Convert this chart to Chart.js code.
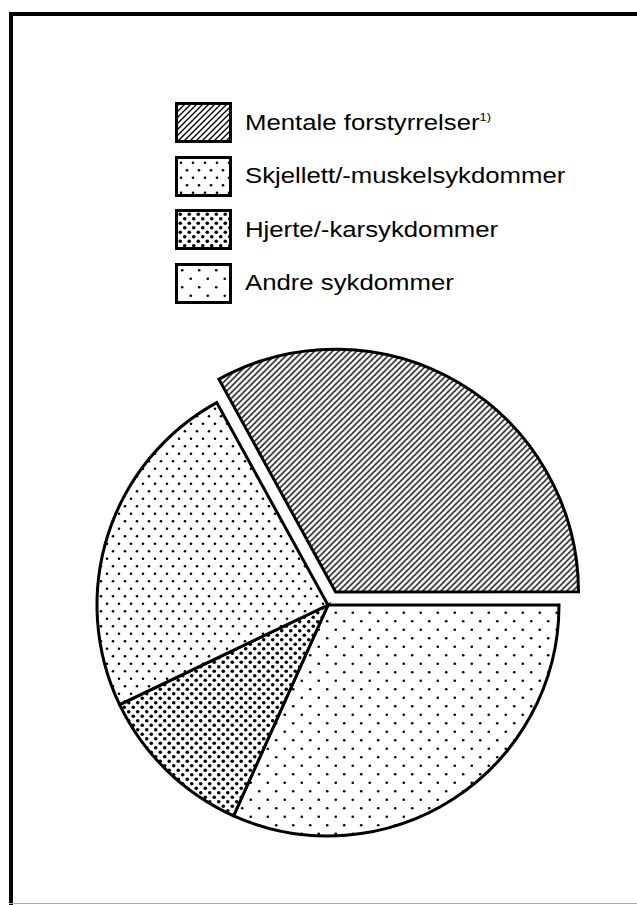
<!DOCTYPE html>
<html lang="no">
<head>
<meta charset="UTF-8">
<title>Sykdomsgrupper</title>
<style>
    html, body { margin: 0; padding: 0; background: #fff; }
    body {
        width: 637px;
        height: 905px;
        position: relative;
        overflow: hidden;
        font-family: "Liberation Sans", Arial, sans-serif;
        color: #000;
    }
    .frame-top { position: absolute; left: 9px; top: 12px; width: 628px; height: 4px; background: #000; }
    .frame-left { position: absolute; left: 9px; top: 12px; width: 4px; height: 893px; background: #000; }
    .frame-bottom { position: absolute; left: 9px; top: 903px; width: 628px; height: 1px; background: #aaa; }
    #legend { position: absolute; left: 175px; top: 102px; }
    .item { display: flex; align-items: center; height: 41px; margin-bottom: 12.5px; }
    .swatch { width: 57px; height: 41px; border: 3px solid #000; box-sizing: border-box; flex: none; }
    .label {
        margin-left: 13px;
        font-size: 22px;
        white-space: nowrap;
        transform: scaleX(1.17);
        transform-origin: left center;
    }
    .label sup { font-size: 11px; vertical-align: 9px; line-height: 0; }
    .chart-box { position: absolute; left: 68px; top: 345px; width: 520px; height: 520px; }
</style>
</head>
<body>
<div class="frame-top"></div>
<div class="frame-left"></div>
<div class="frame-bottom"></div>
<div id="legend"></div>
<div class="chart-box">
    <canvas id="pie"></canvas>
</div>

<script src="https://cdn.jsdelivr.net/npm/chart.js"></script>
<script>
    // categories in legend order
    const categories = ['Mentale forstyrrelser', 'Skjellett/-muskelsykdommer', 'Hjerte/-karsykdommer', 'Andre sykdommer'];
    const footnotes = ['1)', '', '', ''];
    // share of cases, per cent
    const shares = [33.0, 24.1, 11.2, 31.7];
    // clockwise order of the slices, starting with the exploded one
    const pieOrder = [0, 3, 2, 1];
    const explodedIndex = 0;

    // black & white fills
    function hatchPattern(size, width) {
        const c = document.createElement('canvas');
        c.width = c.height = size;
        const g = c.getContext('2d');
        g.fillStyle = '#fff';
        g.fillRect(0, 0, size, size);
        g.strokeStyle = '#000';
        g.lineWidth = width;
        g.beginPath();
        g.moveTo(0, size); g.lineTo(size, 0);
        g.moveTo(-1, 1); g.lineTo(1, -1);
        g.moveTo(size - 1, size + 1); g.lineTo(size + 1, size - 1);
        g.stroke();
        return c;
    }

    function dotPattern(w, h, r) {
        const c = document.createElement('canvas');
        c.width = w;
        c.height = h;
        const g = c.getContext('2d');
        g.fillStyle = '#fff';
        g.fillRect(0, 0, w, h);
        g.fillStyle = '#000';
        [[w / 4, h / 4], [3 * w / 4, 3 * h / 4]].forEach(([x, y]) => {
            g.beginPath();
            g.arc(x, y, r, 0, Math.PI * 2);
            g.fill();
        });
        return c;
    }

    const tiles = [
        hatchPattern(6, 1.4),
        dotPattern(12, 15, 1.3),
        dotPattern(9, 9, 1.8),
        dotPattern(17, 17, 1.3)
    ];

    // legend
    const legend = document.getElementById('legend');
    categories.forEach((name, i) => {
        const row = document.createElement('div');
        row.className = 'item';
        const box = document.createElement('div');
        box.className = 'swatch';
        box.style.backgroundImage = 'url(' + tiles[i].toDataURL() + ')';
        const label = document.createElement('span');
        label.className = 'label';
        label.textContent = name;
        if (footnotes[i]) {
            const sup = document.createElement('sup');
            sup.textContent = footnotes[i];
            label.appendChild(sup);
        }
        row.appendChild(box);
        row.appendChild(label);
        legend.appendChild(row);
    });

    // pie
    const ctx = document.getElementById('pie').getContext('2d');
    const fills = tiles.map(t => ctx.createPattern(t, 'repeat'));

    const explodeGrow = 10;
    const growExploded = {
        id: 'growExploded',
        afterDatasetsUpdate(chart) {
            const arc = chart.getDatasetMeta(0).data[pieOrder.indexOf(explodedIndex)];
            if (arc) arc.outerRadius += explodeGrow;
        }
    };

    new Chart(ctx, {
        type: 'pie',
        data: {
            labels: pieOrder.map(i => categories[i]),
            datasets: [{
                data: pieOrder.map(i => shares[i]),
                backgroundColor: pieOrder.map(i => fills[i]),
                borderColor: '#000',
                borderWidth: 3,
                borderJoinStyle: 'miter',
                offset: pieOrder.map(i => i === explodedIndex ? 60 : 0)
            }]
        },
        options: {
            responsive: true,
            maintainAspectRatio: false,
            animation: false,
            events: [],
            radius: 231,
            rotation: -28.8,
            layout: { padding: 0 },
            plugins: {
                legend: { display: false },
                tooltip: { enabled: false }
            }
        },
        plugins: [growExploded]
    });
</script>
</body>
</html>
